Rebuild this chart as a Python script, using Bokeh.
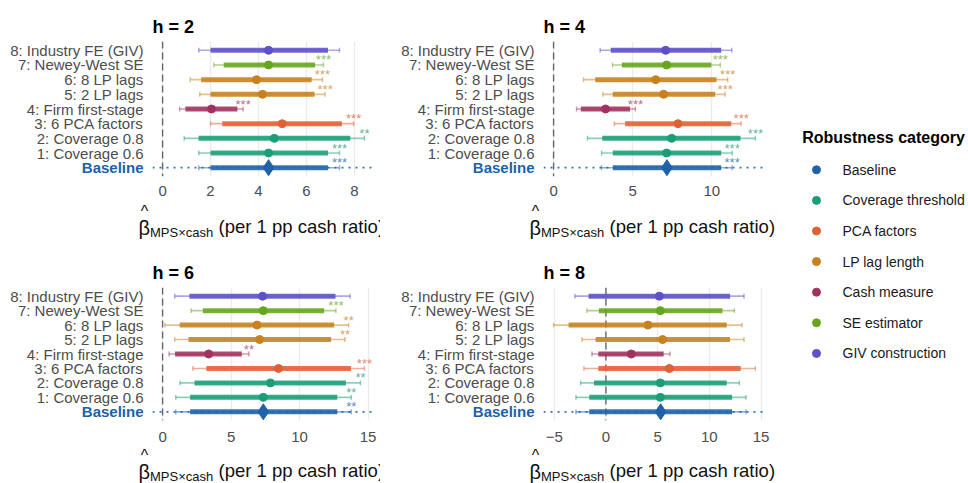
from bokeh.plotting import figure
from bokeh.models import ColumnDataSource, Range1d, FixedTicker, Span, AllLabels
from bokeh.layouts import row, column
from bokeh.embed import file_html
from bokeh.resources import INLINE
from bokeh.core.properties import value

FONT = "Liberation Sans"

# Specifications, bottom (Baseline) to top
specs = ["Baseline", "1: Coverage 0.6", "2: Coverage 0.8", "3: 6 PCA factors",
         "4: Firm first-stage", "5: 2 LP lags", "6: 8 LP lags",
         "7: Newey-West SE", "8: Industry FE (GIV)"]
spec_category = ["Baseline", "Coverage threshold", "Coverage threshold", "PCA factors",
                 "Cash measure", "LP lag length", "LP lag length",
                 "SE estimator", "GIV construction"]

categories = ["Baseline", "Coverage threshold", "PCA factors", "LP lag length",
              "Cash measure", "SE estimator", "GIV construction"]
category_colors = ["#2062A8", "#1B9E77", "#DF6236", "#C7821F",
                   "#A0325F", "#66A61E", "#5D50C8"]

horizons = [2, 4, 6, 8]

# h = 2
est_h2 = [4.42, 4.42, 4.66, 4.99, 2.04, 4.17, 3.92, 4.42, 4.42]
lo90_h2 = [2.00, 2.00, 1.50, 2.49, 0.95, 2.00, 1.61, 2.55, 2.00]
hi90_h2 = [6.90, 6.90, 7.83, 7.48, 3.12, 6.34, 6.22, 6.36, 6.90]
lo95_h2 = [1.51, 1.51, 0.90, 2.00, 0.71, 1.55, 1.15, 2.14, 1.51]
hi95_h2 = [7.38, 7.38, 8.42, 7.97, 3.36, 6.78, 6.67, 6.71, 7.38]
stars_h2 = ["***", "***", "**", "***", "***", "***", "***", "***", ""]
ticks_h2 = [0, 2, 4, 6, 8]

# h = 4
est_h4 = [7.16, 7.14, 7.46, 7.86, 3.28, 6.95, 6.45, 7.14, 7.08]
lo90_h4 = [3.74, 3.74, 3.07, 4.52, 1.72, 3.74, 2.63, 4.31, 3.61]
hi90_h4 = [10.59, 10.59, 11.81, 11.22, 4.83, 10.21, 10.29, 9.96, 10.59]
lo95_h4 = [3.03, 3.03, 2.14, 3.84, 1.45, 3.11, 1.89, 3.72, 2.94]
hi95_h4 = [11.28, 11.28, 12.75, 11.85, 5.17, 10.84, 11.00, 10.53, 11.26]
stars_h4 = ["***", "***", "***", "***", "***", "***", "***", "***", ""]
ticks_h4 = [0, 5, 10]

# h = 6
est_h6 = [7.35, 7.35, 7.87, 8.46, 3.36, 7.08, 6.89, 7.35, 7.30]
lo90_h6 = [2.01, 2.01, 2.33, 3.19, 0.91, 1.89, 1.25, 2.94, 1.96]
hi90_h6 = [12.75, 12.75, 13.38, 13.75, 5.78, 12.30, 12.52, 11.79, 12.62]
lo95_h6 = [0.96, 0.96, 1.27, 2.21, 0.47, 0.88, 0.17, 2.08, 0.88]
hi95_h6 = [13.77, 13.77, 14.44, 14.73, 6.30, 13.31, 13.58, 12.65, 13.68]
stars_h6 = ["**", "**", "**", "***", "**", "**", "**", "***", ""]
ticks_h6 = [0, 5, 10, 15]

# h = 8
est_h8 = [5.29, 5.26, 5.26, 6.13, 2.45, 5.48, 4.06, 5.26, 5.16]
lo90_h8 = [-1.61, -1.61, -1.16, -0.74, -0.74, -1.00, -3.61, -0.68, -1.68]
hi90_h8 = [12.19, 12.19, 11.68, 13.03, 5.58, 12.00, 11.68, 11.26, 12.00]
lo95_h8 = [-2.90, -2.90, -2.45, -2.13, -1.35, -2.32, -5.06, -1.84, -3.00]
hi95_h8 = [13.55, 13.55, 12.90, 14.45, 6.19, 13.35, 13.16, 12.42, 13.35]
stars_h8 = ["", "", "", "", "", "", "", "", ""]
ticks_h8 = [-5, 0, 5, 10, 15]

# x-axis title pieces: beta, hat, subscript, unit text
title_parts = ["\u03b2", "^", "MPS\u00d7cash", "(per 1 pp cash ratio)"]
title_sizes = ["20px", "16px", "13px", "18.5px"]

TEXT_GREY = "#4D4D4D"
INK = "#111111"
cat_color = dict(zip(categories, category_colors))
base_color = cat_color["Baseline"]

FRAME_W = 222
CAPTION_GAP = 26   # frame bottom to caption strip top


def blank(width, height, x_range, y_range, **borders):
    f = figure(width=width, height=height, x_range=x_range, y_range=y_range,
               x_axis_type=None, y_axis_type=None, output_backend="svg",
               toolbar_location=None, outline_line_color=None,
               background_fill_color="white", border_fill_color="white",
               min_border=0, **borders)
    f.frame_align = False
    f.grid.visible = False
    return f


def make_panel(h, est, lo90, hi90, lo95, hi95, stars, ticks, left_col, top_row):
    width = 380 if left_col else 400
    b_left = 152 if left_col else 163
    b_right = width - b_left - FRAME_W
    b_top = 41 if top_row else 47
    frame_h = 135 if top_row else 133
    height = b_top + frame_h + CAPTION_GAP

    lo = min(0.0, min(lo95))
    hi = max(hi95)
    pad = 0.05 * (hi - lo)

    rows = list(range(len(specs)))
    y_range = Range1d(-0.6, 8.6)

    p = figure(width=FRAME_W + b_right, height=height,
               x_range=Range1d(lo - pad, hi + pad), y_range=y_range,
               y_axis_type=None, output_backend="svg", toolbar_location=None,
               min_border_left=0, min_border_right=b_right,
               min_border_top=b_top, min_border_bottom=CAPTION_GAP,
               outline_line_color=None, background_fill_color="white",
               border_fill_color="white")
    p.frame_align = False

    p.title.text = f"h = {h}"
    p.title.text_font = FONT
    p.title.text_font_size = "18px"
    p.title.text_font_style = "bold"
    p.title.text_color = "black"
    p.title.align = "left"
    p.title.offset = 0

    ax = p.xaxis[0]
    ax.ticker = FixedTicker(ticks=ticks)
    ax.axis_line_color = None
    ax.major_tick_line_color = None
    ax.minor_tick_line_color = None
    ax.major_tick_out = 0
    ax.major_tick_in = 0
    ax.minor_tick_out = 0
    ax.minor_tick_in = 0
    ax.major_label_text_font = FONT
    ax.major_label_text_font_size = "15px"
    ax.major_label_text_color = TEXT_GREY
    ax.major_label_standoff = 9 if top_row else 11
    ax.major_label_policy = AllLabels()

    p.xgrid.grid_line_color = "#EBEBEB"
    p.xgrid.grid_line_width = 1.3

    # reference lines: zero effect and the baseline row
    p.add_layout(Span(location=0, dimension="height", line_color="#666666",
                      line_dash="7 4", line_width=1.4, level="underlay"))
    p.add_layout(Span(location=rows[0], dimension="width", line_color=base_color,
                      line_dash="2 5", line_width=1.8, line_alpha=0.9, level="underlay"))

    colors = [cat_color[c] for c in spec_category]
    src = ColumnDataSource(dict(
        y=rows, est=est, lo90=lo90, hi90=hi90, lo95=lo95, hi95=hi95,
        color=colors, stars=stars,
        star_y=[r + 0.34 for r in rows],
        cap_lo=[r - 0.17 for r in rows], cap_hi=[r + 0.17 for r in rows],
        marker=["diamond" if c == "Baseline" else "circle" for c in spec_category],
        size=[16 if c == "Baseline" else 8 for c in spec_category],
    ))

    # 95% interval with end caps
    p.segment(x0="lo95", y0="y", x1="hi95", y1="y", source=src,
              line_color="color", line_alpha=0.5, line_width=1.6)
    p.segment(x0="lo95", y0="cap_lo", x1="lo95", y1="cap_hi", source=src,
              line_color="color", line_alpha=0.5, line_width=1.4)
    p.segment(x0="hi95", y0="cap_lo", x1="hi95", y1="cap_hi", source=src,
              line_color="color", line_alpha=0.5, line_width=1.4)
    # 90% interval
    p.segment(x0="lo90", y0="y", x1="hi90", y1="y", source=src,
              line_color="color", line_alpha=0.88, line_width=5, line_cap="butt")
    # point estimates
    p.scatter(x="est", y="y", marker="marker", size="size", source=src,
              fill_color="color", line_color="color")
    # significance stars
    p.text(x="hi95", y="star_y", text="stars", source=src,
           text_color="color", text_alpha=0.75, text_font=value(FONT),
           text_font_size=value("13px"), text_align="center",
           text_baseline="alphabetic")

    # row labels, sharing the panel's vertical scale
    lab = blank(b_left, height, Range1d(0, b_left), y_range,
                min_border_top=b_top, min_border_bottom=CAPTION_GAP)
    lab_x = [b_left - 9] * len(rows)
    lab_src = ColumnDataSource(dict(x=lab_x[1:], y=rows[1:], text=specs[1:]))
    lab.text(x="x", y="y", text="text", source=lab_src, text_font=value(FONT),
             text_font_size=value("15px"), text_color=TEXT_GREY,
             text_align="right", text_baseline="middle")
    lab.text(x=lab_x[:1], y=rows[:1], text=specs[:1], text_font=value(FONT),
             text_font_size=value("15px"), text_font_style="bold",
             text_color=base_color, text_align="right", text_baseline="middle")

    # caption strip holding the x-axis title (pixel coordinates, y down)
    cap_h = (240 if top_row else 243) - height
    cap = blank(width, cap_h, Range1d(0, width), Range1d(cap_h, 0))
    xs = [b_left - 14, b_left - 8, b_left - 2.5, b_left + 66]
    ys = [25, 0.5, 30, 24]
    aligns = ["left", "center", "left", "left"]
    baselines = ["alphabetic", "top", "alphabetic", "alphabetic"]
    for t, sz, x, y, al, bl in zip(title_parts, title_sizes, xs, ys, aligns, baselines):
        cap.text(x=[x], y=[y], text=[t], text_font=value(FONT),
                 text_font_size=value(sz), text_color=INK,
                 text_align=al, text_baseline=bl)
    return column(row(lab, p), cap)


p1 = make_panel(horizons[0], est_h2, lo90_h2, hi90_h2, lo95_h2, hi95_h2, stars_h2, ticks_h2, True, True)
p2 = make_panel(horizons[1], est_h4, lo90_h4, hi90_h4, lo95_h4, hi95_h4, stars_h4, ticks_h4, False, True)
p3 = make_panel(horizons[2], est_h6, lo90_h6, hi90_h6, lo95_h6, hi95_h6, stars_h6, ticks_h6, True, False)
p4 = make_panel(horizons[3], est_h8, lo90_h8, hi90_h8, lo95_h8, hi95_h8, stars_h8, ticks_h8, False, False)

# legend panel
leg = blank(188, 483, Range1d(0, 188), Range1d(483, 0))
item_y = [169.3 + 30.6 * i for i in range(len(categories))]
leg_src = ColumnDataSource(dict(x=[36] * len(categories), tx=[62] * len(categories),
                                y=item_y, name=categories, color=category_colors))
leg.scatter(x="x", y="y", source=leg_src, marker="circle", size=8,
            fill_color="color", line_color="color")
leg.text(x="tx", y="y", text="name", source=leg_src, text_font=value(FONT),
         text_font_size=value("14px"), text_color="#1A1A1A",
         text_align="left", text_baseline="middle")
leg.text(x=[21.7], y=[137], text=["Robustness category"], text_font=value(FONT),
         text_font_size=value("16px"), text_font_style="bold", text_color="black",
         text_align="left", text_baseline="middle")

layout = row(column(row(p1, p2), row(p3, p4)), leg)

open("out.html", "w").write(file_html(layout, INLINE))
